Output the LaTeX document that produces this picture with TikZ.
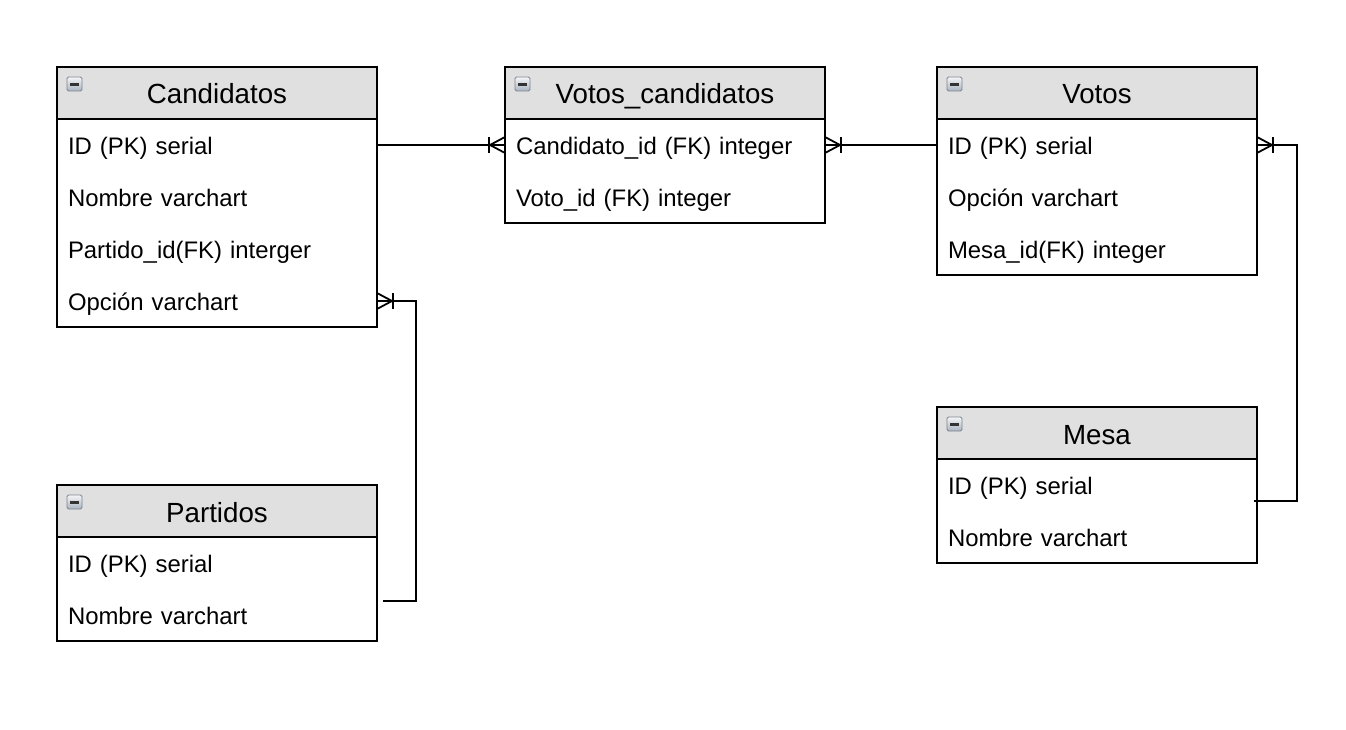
\documentclass[tikz,border=0pt]{standalone}
\usepackage{fontspec}
\setmainfont{Liberation Sans}
\usetikzlibrary{calc}
\definecolor{hdrgray}{HTML}{E0E0E0}
\definecolor{icontop}{HTML}{F4F6F8}
\definecolor{iconbot}{HTML}{A9B3C0}
\definecolor{iconedge}{HTML}{7D8590}
\tikzset{
  x=1pt, y=-1pt,
  hdr/.style={draw=black, line width=1.8pt, fill=hdrgray, minimum width=320pt, minimum height=52pt, inner sep=0pt, outer sep=0pt, text height=25pt, text depth=3pt, font=\fontsize{27.7}{32}\selectfont},
  rowbox/.style={minimum height=52pt, inner xsep=11pt, inner ysep=0pt, outer sep=0pt, text width=298pt, text height=23pt, text depth=4pt, align=left, font=\fontsize{23.9}{28}\selectfont},
  tblbody/.style={draw=black, line width=1.8pt},
  conn/.style={draw=black, line width=1.8pt},
  iconbox/.style={draw=iconedge, line width=0.8pt, rounded corners=1.5pt, top color=icontop, bottom color=iconbot},
  crowL/.pic={\draw[conn] (-16,-8) -- (-16,8); \draw[conn] (0,-8) -- (-15,0) -- (0,8);},
  crowR/.pic={\draw[conn] (16,-8) -- (16,8); \draw[conn] (0,-8) -- (15,0) -- (0,8);}
}
% #1 name, #2 top-left, #3 title, #4 rows, #5 number of rows
\newcommand{\ertable}[5]{%
  \node[hdr, anchor=north west] (#1h) at (#2) {#3};
  \foreach \t [count=\i] in {#4} {
    \node[rowbox, anchor=north west] (#1\i) at ($(#2)+(0,52*\i)$) {\t};
  }
  \draw[tblbody] (#1h.south west) rectangle ($(#1h.south east)+(0,52*#5)$);
  \draw[iconbox] ($(#1h.north west)+(10,10)$) rectangle +(15,14);
  \draw[line width=2.2pt, black!80] ($(#1h.north west)+(13,17.5)$) -- +(9,0);
}
\begin{document}
\begin{tikzpicture}
  \useasboundingbox (0,0) rectangle (1346,730);
  \fill[white] (0,0) rectangle (1346,730);
  \ertable{c}{57,67}{Candidatos}{ID (PK) serial, Nombre varchart, Partido\_id(FK) interger, Opción varchart}{4}
  \ertable{vc}{505,67}{Votos\_candidatos}{Candidato\_id (FK) integer, Voto\_id (FK) integer}{2}
  \ertable{v}{937,67}{Votos}{ID (PK) serial, Opción varchart, Mesa\_id(FK) integer}{3}
  \ertable{m}{937,407}{Mesa}{ID (PK) serial, Nombre varchart}{2}
  \ertable{p}{57,485}{Partidos}{ID (PK) serial, Nombre varchart}{2}

  % connectors
  \draw[conn] (c1.east) -- (vc1.west);
  \pic at (vc1.west) {crowL};

  \draw[conn] (vc1.east) -- (v1.west);
  \pic at (vc1.east) {crowR};

  \coordinate (mEnd) at ($(m1.east)+(-3,16)$);
  \draw[conn] (v1.east) -- ++(40,0) |- (mEnd);
  \pic at (v1.east) {crowR};

  \coordinate (pEnd) at ($(p2.east)+(6,-14)$);
  \draw[conn] (c4.east) -- ++(39,0) |- (pEnd);
  \pic at (c4.east) {crowR};
\end{tikzpicture}
\end{document}
